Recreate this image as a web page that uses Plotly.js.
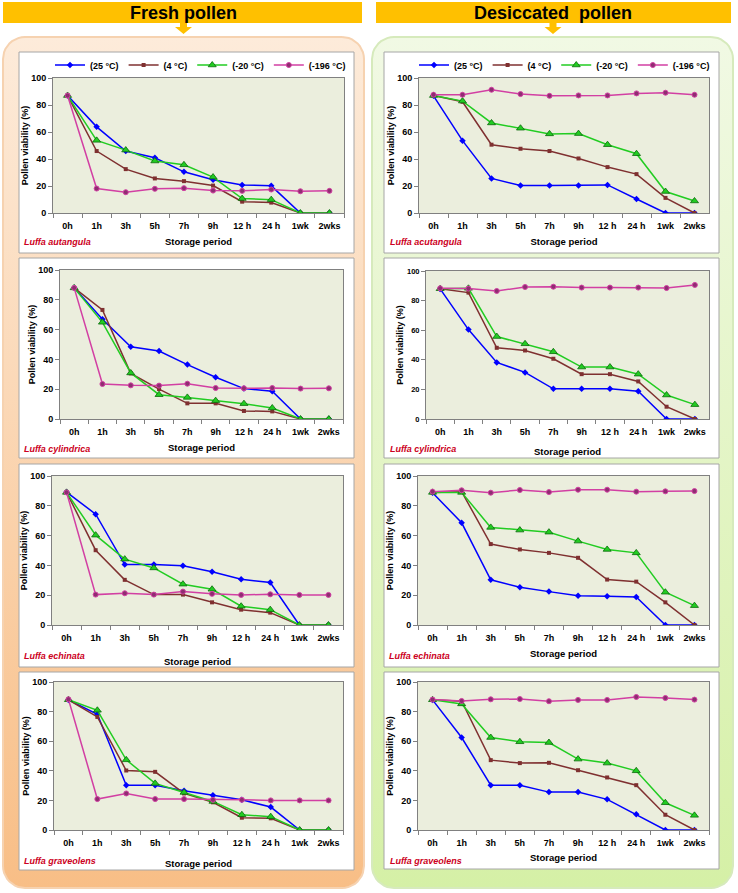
<!DOCTYPE html>
<html><head><meta charset="utf-8">
<script src="https://cdn.plot.ly/plotly-3.0.1.min.js"></script>
<style>html,body{margin:0;padding:0;background:#fff;}#chart{width:738px;height:893px;}</style>
</head><body><div id="chart"></div>
<script>
// ---------------- DATA ----------------
const periods = ['0h','1h','3h','5h','7h','9h','12 h','24 h','1wk','2wks'];
const seriesNames = ['(25 °C)','(4 °C)','(-20 °C)','(-196 °C)'];
const groupTitles = ['Fresh pollen','Desiccated  pollen'];
const speciesFresh = ['Luffa autangula','Luffa cylindrica','Luffa echinata','Luffa graveolens'];
const speciesDesiccated = ['Luffa acutangula','Luffa cylindrica','Luffa echinata','Luffa graveolens'];
const yTickVals = [0,20,40,60,80,100];
const xTitle = 'Storage period';
const yTitle = 'Pollen viability (%)';

// Fresh pollen
const freshAcut_25   = [87, 63.8, 45.9, 40.9, 30.5, 24.6, 20.8, 20.1, 0, 0];
const freshAcut_4    = [87, 45.9, 32.5, 25.6, 23.6, 20.3, 8.4, 7.7, 0, 0];
const freshAcut_m20  = [87, 53.8, 46.6, 38.5, 35.7, 26.6, 10.7, 9.9, 0, 0];
const freshAcut_m196 = [87, 18.1, 15.4, 17.9, 18.4, 16.6, 16.4, 17.4, 16.1, 16.4];

const freshCyl_25   = [88.1, 66.9, 48.5, 45.6, 36.5, 28, 20.4, 18.6, 0, 0];
const freshCyl_4    = [88, 73.2, 30.6, 20.1, 10.5, 10.5, 5.4, 5.1, 0, 0];
const freshCyl_m20  = [88, 64.9, 30.9, 16.3, 14.5, 12.3, 10.3, 7.4, 0, 0];
const freshCyl_m196 = [88, 23.5, 22.6, 22.4, 23.7, 20.8, 20.6, 20.8, 20.4, 20.6];

const freshEch_25   = [89.2, 74.4, 40.6, 40.6, 39.7, 35.7, 30.7, 28.5, 0, 0];
const freshEch_4    = [89, 50.2, 30.3, 20.4, 20.4, 15.2, 10.3, 8.3, 0, 0];
const freshEch_m20  = [89, 60.3, 44.2, 38.3, 27.4, 24, 12.6, 10.3, 0, 0];
const freshEch_m196 = [89, 20.4, 21.3, 20.4, 22.4, 20.9, 20.2, 20.6, 20.2, 20.2];

const freshGrav_25   = [87.9, 78.2, 30.3, 30.3, 26.5, 23.4, 20.4, 15.5, 0, 0];
const freshGrav_4    = [88, 76.4, 40.2, 39.3, 24.7, 18.7, 8.3, 7.9, 0, 0];
const freshGrav_m20  = [88, 80.9, 47.4, 31.5, 25.4, 19.3, 10.3, 9, 0, 0];
const freshGrav_m196 = [88.3, 20.9, 24.7, 20.9, 20.9, 20.4, 20.4, 20, 20, 20];

// Desiccated pollen
const desAcut_25   = [86.8, 53.6, 25.6, 20.3, 20.3, 20.3, 20.8, 10.4, 0, 0];
const desAcut_4    = [87, 82.4, 50.6, 47.6, 45.9, 40.4, 34, 28.8, 11.2, 0];
const desAcut_m20  = [87, 82.9, 66.7, 62.8, 58.6, 58.8, 50.6, 43.9, 15.9, 8.9];
const desAcut_m196 = [87.6, 87.6, 91.3, 88.1, 86.8, 87.1, 87.1, 88.6, 89.1, 87.6];

const desCyl_25   = [87.9, 60.4, 38.2, 31.5, 20.4, 20.4, 20.4, 18.7, 0, 0];
const desCyl_4    = [88, 85.4, 48.1, 46.3, 40.7, 30.3, 30.3, 25.4, 8.3, 0];
const desCyl_m20  = [88, 88.3, 55.7, 50.8, 45.4, 35.1, 35.1, 30.3, 16.2, 9.7];
const desCyl_m196 = [88.3, 88.1, 86.5, 89.2, 89.4, 88.8, 88.8, 88.8, 88.5, 90.6];

const desEch_25   = [88.8, 68.6, 30.3, 25.3, 22.4, 19.7, 19.3, 18.8, 0, 0];
const desEch_4    = [89, 89.5, 54.3, 50.7, 48.4, 45.1, 30.5, 29.1, 15.2, 0];
const desEch_m20  = [89, 89, 65.5, 63.7, 62.3, 56.3, 50.7, 48.4, 22, 13];
const desEch_m196 = [89.5, 90.4, 88.8, 90.6, 89.2, 90.8, 90.8, 89.5, 89.7, 89.9];

const desGrav_25   = [87.9, 62.5, 30.3, 30.3, 25.6, 25.6, 20.7, 10.6, 0, 0];
const desGrav_4    = [88, 87, 47.2, 45.2, 45.4, 40.4, 35.5, 30.3, 10.3, 0];
const desGrav_m20  = [88, 85.2, 62.5, 59.6, 59.1, 47.9, 45.2, 40, 18.4, 9.9];
const desGrav_m196 = [88.1, 87.2, 88.3, 88.5, 87, 87.9, 87.9, 89.9, 89.2, 88.1];

// ---------------- LAYOUT HELPERS ----------------
const W = 738, H = 893;
const fx = p => p / W;
const fy = p => 1 - p / H;
const FONT = 'Arial, Liberation Sans, sans-serif';

const panelsData = [
  [freshAcut_25, freshAcut_4, freshAcut_m20, freshAcut_m196],
  [freshCyl_25, freshCyl_4, freshCyl_m20, freshCyl_m196],
  [freshEch_25, freshEch_4, freshEch_m20, freshEch_m196],
  [freshGrav_25, freshGrav_4, freshGrav_m20, freshGrav_m196],
  [desAcut_25, desAcut_4, desAcut_m20, desAcut_m196],
  [desCyl_25, desCyl_4, desCyl_m20, desCyl_m196],
  [desEch_25, desEch_4, desEch_m20, desEch_m196],
  [desGrav_25, desGrav_4, desGrav_m20, desGrav_m196]
];
const speciesLabels = speciesFresh.concat(speciesDesiccated);

// plot areas: [left, right, top, bottom] px
const plotAreas = [
  [53,344,78,213],[60,343,270,419],[52,343,476,625],[54,343,682,830],
  [419,709,78,213],[426,709,271,419],[418,709,476,625],[418,709,682,830]
];
// white boxes: [left, right, top, bottom]
const boxes = [
  [19,354,52,253],[19,354,258,458],[19,354,464,667],[19,354,672,870],
  [384,719,52,253],[384,719,258,458],[384,719,464,667],[384,719,672,869]
];
const speciesPos = [[22,242],[22,449],[22,656],[22,861],[388,242],[388,449],[387,656],[388,861]];
const xStandoff = [8,8,16,13,8,12,8,7];

const styles = [
  {line:'#0000FF', symbol:'diamond', size:5, fill:'#0000FF', edge:'#0000FF', ew:0},
  {line:'#7F3030', symbol:'square', size:4, fill:'#7F3030', edge:'#7F3030', ew:0},
  {line:'#22CC22', symbol:'triangle-up', size:7, fill:'#22CC22', edge:'#0A6A0A', ew:0.8},
  {line:'#D23FA3', symbol:'circle', size:5, fill:'#8E2E70', edge:'#D23FA3', ew:1}
];

function roundRect(x0,y0,x1,y1,r){
  const xs=[],ys=[];
  const c=[[x1-r,y0+r,-90,0],[x1-r,y1-r,0,90],[x0+r,y1-r,90,180],[x0+r,y0+r,180,270]];
  c.forEach(([cx,cy,a0,a1])=>{for(let i=0;i<=10;i++){const a=(a0+(a1-a0)*i/10)*Math.PI/180;xs.push(cx+r*Math.cos(a));ys.push(cy+r*Math.sin(a));}});
  xs.push(xs[0]);ys.push(ys[0]);
  return {xs,ys};
}
function poly(pts){return {xs:pts.map(p=>p[0]).concat([pts[0][0]]), ys:pts.map(p=>p[1]).concat([pts[0][1]])};}

const traces = [];
function deco(shape, fill, line, lw, grad){
  const t = {x:shape.xs, y:shape.ys, xaxis:'x', yaxis:'y', type:'scatter', mode:'lines',
    fill:'toself', fillcolor:fill, line:{color:line||fill, width:lw||0}, hoverinfo:'skip', showlegend:false};
  if(grad) t.fillgradient = grad;
  traces.push(t);
}
// page background
deco(poly([[0,0],[W,0],[W,H],[0,H]]), '#FFFFFF', '#FFFFFF', 0);
// panels
deco(roundRect(3,37,364,888,22), '#FBD6B2', '#F6D2B0', 2,
  {type:'vertical', start:37, stop:888, colorscale:[[0,'#FDEBDA'],[1,'#F8BE86']]});
deco(roundRect(372,37,733,888,22), '#E4F4C8', '#D6EABC', 2,
  {type:'vertical', start:37, stop:888, colorscale:[[0,'#F1F9E4'],[1,'#D5F0A6']]});
// white boxes
boxes.forEach(b=>deco(poly([[b[0],b[2]],[b[1],b[2]],[b[1],b[3]],[b[0],b[3]]]), '#FFFFFF', '#A6A6A6', 1));
// banners
deco(poly([[3,2],[362,2],[362,23],[3,23]]), '#FFC000', '#FFC000', 0);
deco(poly([[376,2],[731,2],[731,23],[376,23]]), '#FFC000', '#FFC000', 0);
// arrows
[183.5, 553].forEach(cx=>deco(poly([[cx-3.5,23],[cx+3.5,23],[cx+3.5,27],[cx+8.5,27],[cx,34],[cx-8.5,27],[cx-3.5,27]]), '#FFC000', '#FFC000', 0));

const layout = {
  width: W, height: H, margin:{l:0,r:0,t:0,b:0}, paper_bgcolor:'#FFFFFF', plot_bgcolor:'#EBEEDD',
  showlegend:true,
  xaxis:{domain:[0,1], range:[0,W], visible:false, fixedrange:true},
  yaxis:{domain:[0,1], range:[H,0], visible:false, fixedrange:true},
  annotations:[], font:{family:FONT, color:'#000'}
};
const tickFont = {family:FONT, size:9, weight:'bold', color:'#000'};

panelsData.forEach((series, k)=>{
  const n = k+2;
  const a = plotAreas[k];
  series.forEach((vals, s)=>{
    const st = styles[s];
    const t = {x:periods, y:vals, type:'scatter', mode:'lines+markers', name:seriesNames[s],
      xaxis:'x'+n, yaxis:'y'+n,
      line:{color:st.line, width:1.5},
      marker:{symbol:st.symbol, size:st.size, color:st.fill, line:{color:st.edge, width:st.ew}},
      showlegend: (k===0 || k===4), hoverinfo:'x+y'};
    if(k===4) t.legend = 'legend2';
    traces.push(t);
  });
  layout['xaxis'+n] = {domain:[fx(a[0]), fx(a[1])], anchor:'y'+n, type:'category', categoryarray:periods,
    categoryorder:'array', range:[-0.5, 9.5], tickson:'boundaries', ticks:'outside', ticklen:4, tickcolor:'#808080',
    tickangle:0, ticklabelstandoff:4, showline:true, linecolor:'#808080', linewidth:1, mirror:true, showgrid:false, zeroline:false,
    tickfont:tickFont, fixedrange:true,
    title:{text:xTitle, font:{family:FONT, size:9.5, weight:'bold', color:'#000'}, standoff:xStandoff[k]}};
  layout['yaxis'+n] = {domain:[fy(a[3]), fy(a[2])], anchor:'x'+n, range:[0,100], tickvals:yTickVals,
    ticks:'outside', ticklen:4, tickcolor:'#808080', showline:true, linecolor:'#808080', linewidth:1, mirror:true,
    showgrid:false, zeroline:false, fixedrange:true,
    tickfont: (k===5 ? Object.assign({}, tickFont, {size:7.5}) : tickFont),
    title:{text:yTitle, font:{family:FONT, size:9, weight:'bold', color:'#000'}, standoff:1}};
  layout.annotations.push({text:speciesLabels[k], x:fx(speciesPos[k][0]), y:fy(speciesPos[k][1]),
    xref:'paper', yref:'paper', xanchor:'left', yanchor:'middle', showarrow:false,
    font:{family:FONT, size:9, weight:'bold', style:'italic', color:'#CC0022'}});
});

layout.annotations.push({text:groupTitles[0], x:fx(183), y:fy(13), xref:'paper', yref:'paper', showarrow:false,
  xanchor:'center', yanchor:'middle', font:{family:FONT, size:18, weight:'bold', color:'#000'}});
layout.annotations.push({text:groupTitles[1].replace('  ','&nbsp; '), x:fx(553), y:fy(13), xref:'paper', yref:'paper', showarrow:false,
  xanchor:'center', yanchor:'middle', font:{family:FONT, size:18, weight:'bold', color:'#000'}});

const legFont = {family:FONT, size:9, weight:'bold', color:'#000'};
layout.legend = {orientation:'h', x:fx(50), y:fy(65), xanchor:'left', yanchor:'middle', font:legFont,
  bgcolor:'rgba(0,0,0,0)', itemwidth:30, traceorder:'normal', itemclick:false, itemdoubleclick:false};
layout.legend2 = {orientation:'h', x:fx(414), y:fy(65), xanchor:'left', yanchor:'middle', font:legFont,
  bgcolor:'rgba(0,0,0,0)', itemwidth:30, traceorder:'normal', itemclick:false, itemdoubleclick:false};

Plotly.newPlot('chart', traces, layout, {displayModeBar:false, staticPlot:true});
</script></body></html>
